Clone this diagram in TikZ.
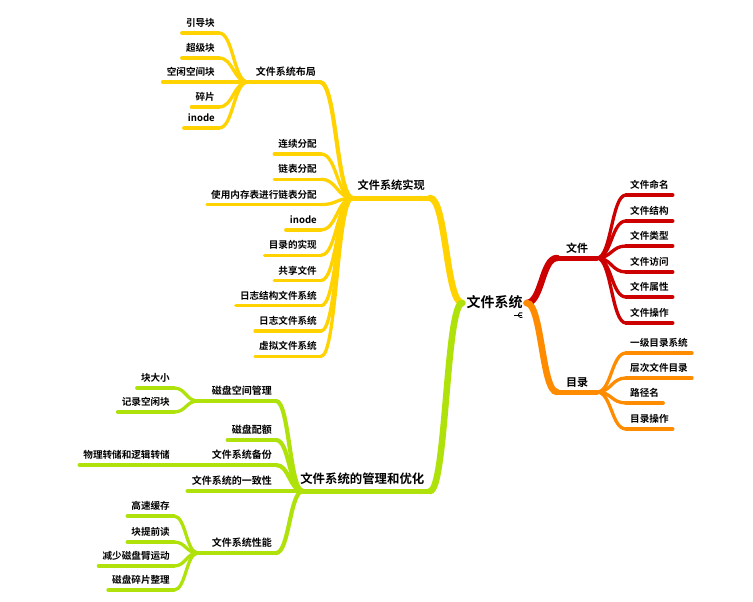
\documentclass[tikz,border=0pt]{standalone}
\usepackage{fontspec}
\setmainfont{Noto Sans CJK SC}[BoldFont={Noto Sans CJK SC Bold}]
\usetikzlibrary{calc}
\definecolor{cy}{HTML}{FFD200}
\definecolor{cr}{HTML}{CC0000}
\definecolor{co}{HTML}{FF8C00}
\definecolor{cg}{HTML}{AEE20A}
\begin{document}
\begin{tikzpicture}[x=1pt,y=-1pt,
  conn/.style={to path={let \p1=(\tikztostart), \p2=(\tikztotarget) in
     .. controls ({(\x1+\x2)/2},\y1) and ({(\x1+\x2)/2},\y2) .. (\tikztotarget)}},
  br/.style={line cap=round},
  w6/.style={br,line width=6.5pt},
  w5/.style={br,line width=5pt},
  w4/.style={br,line width=4.2pt},
  w3/.style={br,line width=3.3pt},
  leaf/.style={font=\fontsize{9.6pt}{11pt}\selectfont\bfseries, inner xsep=4pt, inner ysep=4.4pt, text height=7.7pt, text depth=1.9pt},
  leafL/.style={leaf, anchor=south east},
  leafR/.style={leaf, anchor=south west},
  sub/.style={font=\fontsize{10pt}{12pt}\selectfont\bfseries, inner xsep=4pt, inner ysep=4.2pt, text height=8pt, text depth=2pt, anchor=south east},
  lone/.style={font=\fontsize{11.2pt}{13pt}\selectfont\bfseries, inner xsep=5pt, inner ysep=6.3pt, text height=9pt, text depth=2.2pt},
  ltwo/.style={font=\fontsize{12.4pt}{14pt}\selectfont\bfseries, inner xsep=5.5pt, inner ysep=4.8pt, text height=9.9pt, text depth=2.5pt},
  lr/.style={font=\fontsize{11pt}{13pt}\selectfont\bfseries, inner xsep=9pt, inner ysep=3.1pt, text height=8.8pt, text depth=2.2pt, anchor=south west},
  rootn/.style={font=\fontsize{14pt}{16pt}\selectfont\bfseries, inner xsep=4pt, inner ysep=2pt, text height=11.2pt, text depth=2.8pt},
  iconline/.style={line width=0.8pt}
]
\useasboundingbox (0,0) rectangle (753,602);

% root
\node[rootn] (root) at (494.5,303) {文件系统};

% ---------- yellow: 文件系统实现 ----------
\coordinate (impl-j) at (353,198);
\node[lone, anchor=south east] (impl) at (430,198) {文件系统实现};
\draw[cy,w6] (root.west) to[conn] (impl.south east);
\draw[cy,w5] (impl-j) -- (impl.south east);

\coordinate (lay-j) at (248,82);
\node[sub] (lay) at (320,82) {文件系统布局};
\draw[cy,w4] (lay.south east) to[conn] (impl-j);
\draw[cy,w4] (lay-j) -- (lay.south east);

\node[leafL] (a1) at (219,33) {引导块};
\node[leafL] (a2) at (219,58) {超级块};
\node[leafL] (a3) at (219,82) {空闲空间块};
\node[leafL] (a4) at (219,107) {碎片};
\node[leafL] (a5) at (219,128) {inode};
\foreach \nd in {a1,a2,a3,a4,a5}{
  \draw[cy,w3] (\nd.south west) -- (\nd.south east);
  \draw[cy,w3] (\nd.south east) to[conn] (lay-j);
}

\node[leafL] (b1) at (321,154) {连续分配};
\node[leafL] (b2) at (321,179.3) {链表分配};
\node[leafL] (b3) at (321,204.6) {使用内存表进行链表分配};
\node[leafL] (b4) at (321,229.9) {inode};
\node[leafL] (b5) at (321,255.2) {目录的实现};
\node[leafL] (b6) at (321,280.5) {共享文件};
\node[leafL] (b7) at (321,305.8) {日志结构文件系统};
\node[leafL] (b8) at (321,331.1) {日志文件系统};
\node[leafL] (b9) at (321,356.4) {虚拟文件系统};
\foreach \nd in {b1,b2,b3,b4,b5,b6,b7,b8,b9}{
  \draw[cy,w3] (\nd.south west) -- (\nd.south east);
  \draw[cy,w3] (\nd.south east) to[conn] (impl-j);
}

% ---------- green: 文件系统的管理和优化 ----------
\coordinate (mg-j) at (303,491);
\node[ltwo, anchor=south east] (mg) at (430,491) {文件系统的管理和优化};
\draw[cg,w6] (root.west) to[conn] (mg.south east);
\draw[cg,w5] (mg-j) -- (mg.south east);

\coordinate (sp-j) at (198,401);
\node[sub] (sp) at (276,401) {磁盘空间管理};
\node[sub] (qt) at (276,440) {磁盘配额};
\coordinate (bk-j) at (197,465);
\node[sub] (bk) at (276,465) {文件系统备份};
\node[sub] (cs) at (276,491) {文件系统的一致性};
\coordinate (pf-j) at (198,553);
\node[sub] (pf) at (276,553) {文件系统性能};
\draw[cg,w4] (sp-j) -- (sp.south east);
\draw[cg,w4] (qt.south west) -- (qt.south east);
\draw[cg,w4] (bk-j) -- (bk.south east);
\draw[cg,w4] (cs.south west) -- (cs.south east);
\draw[cg,w4] (pf-j) -- (pf.south east);
\foreach \nd in {sp,qt,bk,cs,pf}{
  \draw[cg,w4] (\nd.south east) to[conn] (mg-j);
}

\node[leafL] (c1) at (174,388) {块大小};
\node[leafL] (c2) at (174,412) {记录空闲块};
\foreach \nd in {c1,c2}{
  \draw[cg,w3] (\nd.south west) -- (\nd.south east);
  \draw[cg,w3] (\nd.south east) to[conn] (sp-j);
}
\node[leafL] (d1) at (174,465) {物理转储和逻辑转储};
\draw[cg,w3] (d1.south west) -- (d1.south east);
\draw[cg,w3] (d1.south east) to[conn] (bk-j);

\node[leafL] (e1) at (174,516) {高速缓存};
\node[leafL] (e2) at (174,542) {块提前读};
\node[leafL] (e3) at (174,566) {减少磁盘臂运动};
\node[leafL] (e4) at (174,590) {磁盘碎片整理};
\foreach \nd in {e1,e2,e3,e4}{
  \draw[cg,w3] (\nd.south west) -- (\nd.south east);
  \draw[cg,w3] (\nd.south east) to[conn] (pf-j);
}

% ---------- red: 文件 ----------
\coordinate (wen-j) at (597,258);
\node[lr] (wen) at (557,258) {文件};
\draw[cr,w6] (root.east) to[conn] (wen.south west);
\draw[cr,w5] (wen.south west) -- (wen-j);
\node[leafR] (f1) at (626,195) {文件命名};
\node[leafR] (f2) at (626,221) {文件结构};
\node[leafR] (f3) at (626,246) {文件类型};
\node[leafR] (f4) at (626,272) {文件访问};
\node[leafR] (f5) at (626,297) {文件属性};
\node[leafR] (f6) at (626,323) {文件操作};
\foreach \nd in {f1,f2,f3,f4,f5,f6}{
  \draw[cr,w3] (\nd.south west) -- (\nd.south east);
  \draw[cr,w3] (wen-j) to[conn] (\nd.south west);
}

% ---------- orange: 目录 ----------
\coordinate (ml-j) at (597,392);
\node[lr] (ml) at (557,392) {目录};
\draw[co,w6] (root.east) to[conn] (ml.south west);
\draw[co,w5] (ml.south west) -- (ml-j);
\node[leafR] (g1) at (626,353) {一级目录系统};
\node[leafR] (g2) at (626,378) {层次文件目录};
\node[leafR] (g3) at (626,403) {路径名};
\node[leafR] (g4) at (626,429) {目录操作};
\foreach \nd in {g1,g2,g3,g4}{
  \draw[co,w3] (\nd.south west) -- (\nd.south east);
  \draw[co,w3] (ml-j) to[conn] (\nd.south west);
}

% small marker under the root
\coordinate (mk) at (521,315);
\draw[iconline] ($(mk)+(-7,0)$) -- ($(mk)+(0.5,0)$);
\draw[iconline] ($(mk)+({2.6*cos(55)},{2.6*sin(55)})$) arc[start angle=55, end angle=305, radius=2.6];
\end{tikzpicture}
\end{document}
